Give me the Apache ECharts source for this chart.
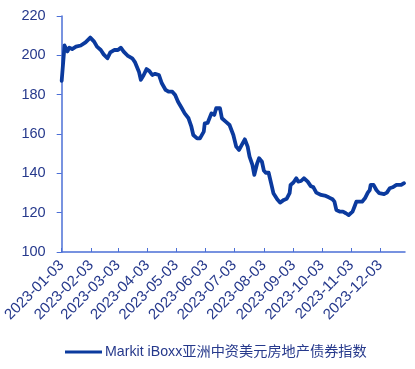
<!DOCTYPE html>
<html>
<head>
<meta charset="utf-8">
<script src="https://cdn.jsdelivr.net/npm/echarts@6/dist/echarts.min.js"></script>
<style>
html,body{margin:0;padding:0;background:#fff;}
#c{width:415px;height:369px;}
</style>
</head>
<body>
<div id="c"></div>
<script>
const seriesName = 'Markit iBoxx亚洲中资美元房地产债券指数';
const dates = [
'2023-01-03','2023-01-06','2023-01-08','2023-01-09','2023-01-11','2023-01-14','2023-01-18','2023-01-23','2023-01-28',
'2023-02-02','2023-02-06','2023-02-09','2023-02-13','2023-02-16','2023-02-20','2023-02-23','2023-02-27',
'2023-03-03','2023-03-06','2023-03-09','2023-03-13','2023-03-18','2023-03-21','2023-03-25','2023-03-27','2023-03-30',
'2023-04-02','2023-04-05','2023-04-08','2023-04-11','2023-04-15','2023-04-18','2023-04-22','2023-04-25','2023-04-29',
'2023-05-02','2023-05-05','2023-05-09','2023-05-12','2023-05-16','2023-05-19','2023-05-21','2023-05-25','2023-05-28',
'2023-06-01','2023-06-02','2023-06-05','2023-06-06','2023-06-09','2023-06-12','2023-06-14','2023-06-18','2023-06-20','2023-06-24','2023-06-28',
'2023-07-02','2023-07-05','2023-07-08','2023-07-10','2023-07-14','2023-07-17','2023-07-19','2023-07-22','2023-07-24','2023-07-27','2023-07-29',
'2023-08-01','2023-08-03','2023-08-05','2023-08-08','2023-08-11','2023-08-13','2023-08-17','2023-08-20','2023-08-24','2023-08-27','2023-08-30','2023-08-31',
'2023-09-03','2023-09-06','2023-09-08','2023-09-11','2023-09-14','2023-09-18','2023-09-21','2023-09-24','2023-09-27',
'2023-10-02','2023-10-07','2023-10-10','2023-10-14','2023-10-16','2023-10-18','2023-10-22','2023-10-25','2023-10-28','2023-10-31',
'2023-11-04','2023-11-06','2023-11-08','2023-11-10','2023-11-14','2023-11-17','2023-11-20','2023-11-22','2023-11-23','2023-11-26','2023-11-29',
'2023-12-02','2023-12-07','2023-12-10','2023-12-13','2023-12-16','2023-12-20','2023-12-25','2023-12-28'
];
const values = [
187,205,204.4,202,203.9,203.2,204.4,205,206.6,
209,207,204.4,202.7,200.5,198.5,201.5,202.7,
202.7,203.9,201.9,199.9,198.5,196.4,191.7,187.5,190,
193,192,190,190.6,190,185.8,182.4,181.5,181.5,
179.8,176.4,173.1,170.5,168,163.7,159.5,157.8,157.8,
161.2,165.4,165.6,165.1,170.5,169.7,173.1,173.1,168,166.3,164.6,
159.5,153.6,151.9,152.2,157.3,153.6,148.5,144.3,139.2,145.1,147.7,
145.9,141.4,140.3,140.3,134.1,129.9,126.8,125.1,126.5,127.1,129.9,134.1,
135.3,137.5,135.8,136.1,137.5,135.8,133.6,132.9,130.2,
129,128.5,127.8,126.8,125.6,121.4,120.5,120.5,119.7,118.8,
120.5,123,125.6,124.8,125.6,127.3,130.2,131.5,134.1,134.1,131.5,
129.9,129.4,130.2,132.4,132.9,134.1,134.1,135
];
const xTickLabels = ['2023-01-03','2023-02-03','2023-03-03','2023-04-03','2023-05-03','2023-06-03','2023-07-03','2023-08-03','2023-09-03','2023-10-03','2023-11-03','2023-12-03'];
const xStart = '2023-01-03';
const xEnd = '2023-12-29';
const yTicks = [100,120,140,160,180,200,220];

function ts(s){ return Date.UTC(+s.slice(0,4), +s.slice(5,7)-1, +s.slice(8,10)); }
function fmt(v){ const d=new Date(v); const m=String(d.getUTCMonth()+1).padStart(2,'0'); const dd=String(d.getUTCDate()).padStart(2,'0'); return d.getUTCFullYear()+'-'+m+'-'+dd; }

const tickVals = xTickLabels.map(ts);
const chart = echarts.init(document.getElementById('c'), null, {renderer:'canvas'});
const textColor = '#26398c';
const axisColor = '#4b6fd6';
chart.setOption({
  animation:false,
  backgroundColor:'#ffffff',
  textStyle:{fontFamily:'Liberation Sans, Arial, sans-serif'},
  grid:{left:59,right:10,top:16,bottom:117,containLabel:false},
  legend:{
    show:true, left:60, top:340, itemWidth:37, itemHeight:14, itemGap:10,
    icon:'path://M0,6L37,6L37,9L0,9Z',
    textStyle:{color:textColor,fontSize:14.2,fontFamily:'Liberation Sans, "Noto Sans CJK SC", sans-serif',padding:[0,0,0,-2]},
    data:[seriesName]
  },
  xAxis:{
    type:'value', min:ts(xStart), max:ts(xEnd), scale:true,
    axisLine:{show:true,lineStyle:{color:axisColor,width:1.5}},
    axisTick:{show:true,inside:true,length:4,customValues:tickVals,lineStyle:{color:axisColor,width:1}},
    axisLabel:{show:true,customValues:tickVals,rotate:45,fontSize:15,color:textColor,margin:11,
      formatter:function(v){return fmt(v);}, hideOverlap:false, showMinLabel:true, showMaxLabel:true},
    splitLine:{show:false}
  },
  yAxis:{
    type:'value', min:yTicks[0], max:yTicks[yTicks.length-1], interval:20,
    axisLine:{show:true,lineStyle:{color:axisColor,width:1.5}},
    axisTick:{show:true,length:5,lineStyle:{color:axisColor,width:1}},
    axisLabel:{fontSize:14.5,color:textColor,margin:16},
    splitLine:{show:false}
  },
  series:[{
    name:seriesName, type:'line', showSymbol:false, symbol:'none',
    data:dates.map((d,i)=>[ts(d),values[i]]),
    lineStyle:{color:'#0b3a9e',width:3.8,join:'round',cap:'round'},
    itemStyle:{color:'#0b3a9e'}
  }]
});
</script>
</body>
</html>
